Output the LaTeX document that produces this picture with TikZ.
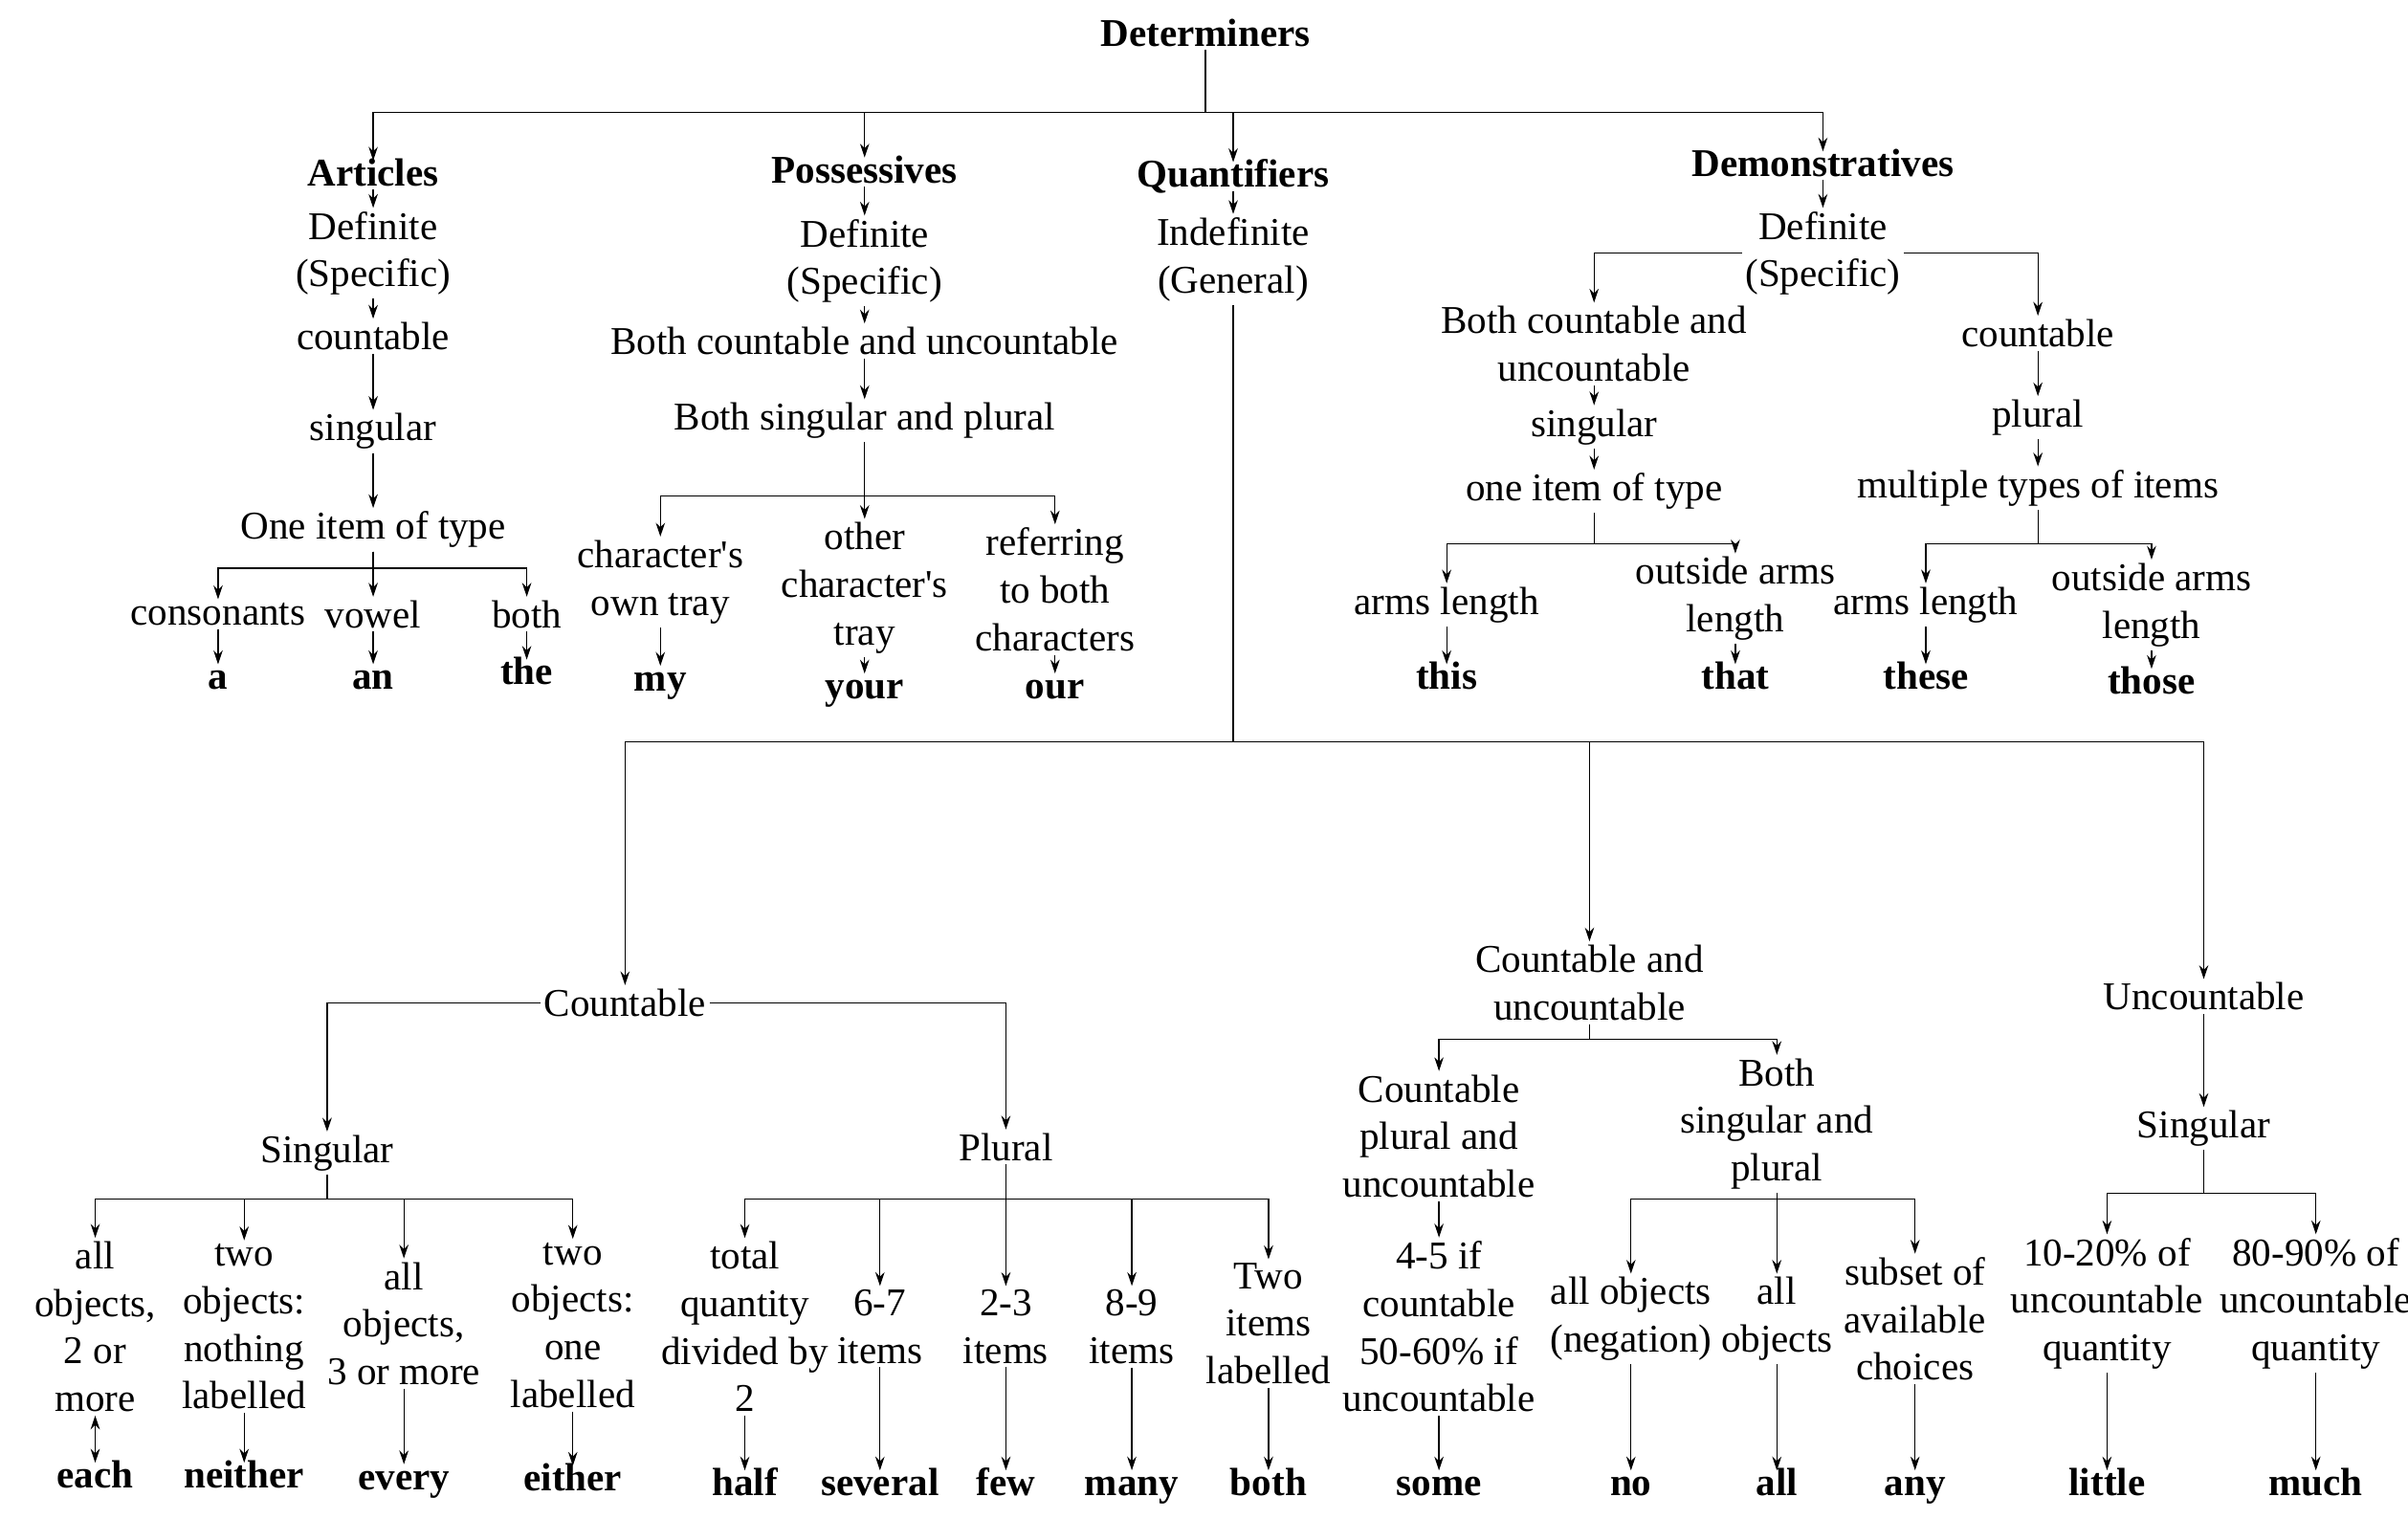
\documentclass[tikz,border=0pt]{standalone}
\usepackage{fontspec}
\setmainfont{Liberation Serif}
\usetikzlibrary{arrows.meta}

\tikzset{
  lbl/.style={inner sep=1pt, align=center},
  word/.style={lbl, text height=0.7em, text depth=0pt, yshift=-1pt, font=\fontsize{12.8}{15.5}\selectfont\bfseries},
  arr/.style={-{Stealth[length=4.5pt,width=3pt]}, line width=0.4pt},
  dbl/.style={{Stealth[length=4.5pt,width=3pt]}-{Stealth[length=4.5pt,width=3pt]}, line width=0.4pt},
}
\newcommand{\apo}{\textquotesingle}

\begin{document}
\begin{tikzpicture}[x=0.5pt, y=-0.5pt, font=\fontsize{12.8}{15.5}\selectfont]
\useasboundingbox (0,0) rectangle (1568,989);

% bus heights
\coordinate (busdet) at (0,73);
\coordinate (busart) at (0,370);
\coordinate (busposs) at (0,323);
\coordinate (busq) at (0,483);
\coordinate (buscu) at (0,677);
\coordinate (buslow) at (0,781);
\coordinate (busunc) at (0,777);
\coordinate (busdem) at (0,354);

% Root
\node[word] (det) at (785,21) {Determiners};

% Articles
\node[word] (art) at (243,112) {Articles};
\node[lbl] (artdef) at (243,165) {Definite\\(Specific)};
\node[lbl] (artcnt) at (243,219) {countable};
\node[lbl] (artsg) at (243,281) {singular};
\node[lbl] (artone) at (243,345) {One item of type};
\node[lbl] (artcons) at (142,400) {consonants};
\node[lbl] (artvow) at (243,400) {vowel};
\node[lbl] (artboth) at (343,400) {both};
\node[word] (wa) at (142,440) {a};
\node[word] (wan) at (243,440) {an};
\node[word] (wthe) at (343,437) {the};

% Possessives
\node[word] (poss) at (563,110) {Possessives};
\node[lbl] (possdef) at (563,170) {Definite\\(Specific)};
\node[lbl] (posscu) at (563,222) {Both countable and uncountable};
\node[lbl] (posssp) at (563,274) {Both singular and plural};
\node[lbl] (possown) at (430,379) {character\apo s\\own tray};
\node[lbl] (possoth) at (563,383) {other\\character\apo s\\tray};
\node[lbl] (possref) at (687,384) {referring\\to both\\characters};
\node[word] (wmy) at (430,441) {my};
\node[word] (wyour) at (563,446) {your};
\node[word] (wour) at (687,446) {our};

% Quantifiers
\node[word] (quant) at (803,113) {Quantifiers};
\node[lbl] (quantind) at (803,169) {Indefinite\\(General)};

\node[lbl] (cnt) at (407,653) {Countable};
\node[lbl] (cntsg) at (213,751) {Singular};
\node[lbl] (cntpl) at (655,747) {Plural};
\node[lbl] (s1) at (62,864) {all\\objects,\\2 or\\more};
\node[lbl] (s2) at (159,864) {two\\objects:\\nothing\\labelled};
\node[lbl] (s3) at (263,862) {all\\objects,\\3 or more};
\node[lbl] (s4) at (373,863) {two\\objects:\\one\\labelled};
\node[word] (weach) at (62,960) {each};
\node[word] (wneither) at (159,960) {neither};
\node[word] (wevery) at (263,961) {every};
\node[word] (weither) at (373,962) {either};
\node[lbl] (p1) at (485,864) {total\\quantity\\divided by\\2};
\node[lbl] (p2) at (573,864) {6-7\\items};
\node[lbl] (p3) at (655,864) {2-3\\items};
\node[lbl] (p4) at (737,864) {8-9\\items};
\node[lbl] (p5) at (826,862) {Two\\items\\labelled};
\node[word] (whalf) at (485,965) {half};
\node[word] (wseveral) at (573,965) {several};
\node[word] (wfew) at (655,965) {few};
\node[word] (wmany) at (737,965) {many};
\node[word] (wboth) at (826,965) {both};

\node[lbl] (cu) at (1035,640) {Countable and\\uncountable};
\node[lbl] (cupl) at (937,740) {Countable\\plural and\\uncountable};
\node[lbl] (cupct) at (937,864) {4-5 if\\countable\\50-60\% if\\uncountable};
\node[word] (wsome) at (937,965) {some};
\node[lbl] (cusp) at (1157,732) {Both\\singular and\\plural};
\node[lbl] (cuno) at (1062,859) {all objects\\(negation)};
\node[lbl] (cuall) at (1157,859) {all\\objects};
\node[lbl] (cuany) at (1247,859) {subset of\\available\\choices};
\node[word] (wno) at (1062,965) {no};
\node[word] (wall) at (1157,965) {all};
\node[word] (wany) at (1247,965) {any};

\node[lbl] (unc) at (1435,649) {Uncountable};
\node[lbl] (uncsg) at (1435,735) {Singular};
\node[lbl] (unclo) at (1372,849) {10-20\% of\\uncountable\\quantity};
\node[lbl] (unchi) at (1508,849) {80-90\% of\\uncountable\\quantity};
\node[word] (wlittle) at (1372,965) {little};
\node[word] (wmuch) at (1508,965) {much};

% Demonstratives
\node[word] (dem) at (1187,106) {Demonstratives};
\node[lbl] (demdef) at (1187,165) {Definite\\(Specific)};
\node[lbl] (dembcu) at (1038,224) {Both countable and\\uncountable};
\node[lbl] (demsg) at (1038,278) {singular};
\node[lbl] (demone) at (1038,320) {one item of type};
\node[lbl] (demarm) at (942,394) {arms length};
\node[lbl] (demout) at (1130,390) {outside arms\\length};
\node[word] (wthis) at (942,440) {this};
\node[word] (wthat) at (1130,440) {that};
\node[lbl] (demcnt) at (1327,217) {countable};
\node[lbl] (dempl) at (1327,272) {plural};
\node[lbl] (demmul) at (1327,318) {multiple types of items};
\node[lbl] (demarm2) at (1254,394) {arms length};
\node[lbl] (demout2) at (1401,394) {outside arms\\length};
\node[word] (wthese) at (1254,440) {these};
\node[word] (wthose) at (1401,443) {those};

% Connectors: root
\draw[arr] (det.south) |- (art.north |- busdet) -- (art.north);
\draw[arr] (det.south) |- (poss.north |- busdet) -- (poss.north);
\draw[arr] (det.south) |- (quant.north |- busdet) -- (quant.north);
\draw[arr] (det.south) |- (dem.north |- busdet) -- (dem.north);

% Articles
\draw[arr] (art) -- (artdef);
\draw[arr] (artdef) -- (artcnt);
\draw[arr] (artcnt) -- (artsg);
\draw[arr] (artsg) -- (artone);
\draw[arr] (artone.south) |- (artcons.north |- busart) -- (artcons.north);
\draw[arr] (artone.south) -- (artvow.north);
\draw[arr] (artone.south) |- (artboth.north |- busart) -- (artboth.north);
\draw[arr] (artcons) -- (wa);
\draw[arr] (artvow) -- (wan);
\draw[arr] (artboth) -- (wthe);

% Possessives
\draw[arr] (poss) -- (possdef);
\draw[arr] (possdef) -- (posscu);
\draw[arr] (posscu) -- (posssp);
\draw[arr] (posssp.south) |- (possown.north |- busposs) -- (possown.north);
\draw[arr] (posssp.south) -- (possoth.north);
\draw[arr] (posssp.south) |- (possref.north |- busposs) -- (possref.north);
\draw[arr] (possown) -- (wmy);
\draw[arr] (possoth) -- (wyour);
\draw[arr] (possref) -- (wour);

% Quantifiers
\draw[arr] (quant) -- (quantind);
\draw[arr] (quantind.south) |- (cnt.north |- busq) -- (cnt.north);
\draw[arr] (quantind.south) |- (cu.north |- busq) -- (cu.north);
\draw[arr] (quantind.south) |- (unc.north |- busq) -- (unc.north);

\draw[arr] (cnt.west) -| (cntsg.north);
\draw[arr] (cnt.east) -| (cntpl.north);
\draw[arr] (cntsg.south) |- (s1.north |- buslow) -- (s1.north);
\draw[arr] (cntsg.south) |- (s2.north |- buslow) -- (s2.north);
\draw[arr] (cntsg.south) |- (s3.north |- buslow) -- (s3.north);
\draw[arr] (cntsg.south) |- (s4.north |- buslow) -- (s4.north);
\draw[dbl] (s1) -- (weach);
\draw[arr] (s2) -- (wneither);
\draw[arr] (s3) -- (wevery);
\draw[arr] (s4) -- (weither);
\draw[arr] (cntpl.south) |- (p1.north |- buslow) -- (p1.north);
\draw[arr] (cntpl.south) |- (p2.north |- buslow) -- (p2.north);
\draw[arr] (cntpl.south) -- (p3.north);
\draw[arr] (cntpl.south) |- (p4.north |- buslow) -- (p4.north);
\draw[arr] (cntpl.south) |- (p5.north |- buslow) -- (p5.north);
\draw[arr] (p1) -- (whalf);
\draw[arr] (p2) -- (wseveral);
\draw[arr] (p3) -- (wfew);
\draw[arr] (p4) -- (wmany);
\draw[arr] (p5) -- (wboth);

\draw[arr] (cu.south) |- (cupl.north |- buscu) -- (cupl.north);
\draw[arr] (cu.south) |- (cusp.north |- buscu) -- (cusp.north);
\draw[arr] (cupl) -- (cupct);
\draw[arr] (cupct) -- (wsome);
\draw[arr] (cusp.south) |- (cuno.north |- buslow) -- (cuno.north);
\draw[arr] (cusp.south) -- (cuall.north);
\draw[arr] (cusp.south) |- (cuany.north |- buslow) -- (cuany.north);
\draw[arr] (cuno) -- (wno);
\draw[arr] (cuall) -- (wall);
\draw[arr] (cuany) -- (wany);

\draw[arr] (unc) -- (uncsg);
\draw[arr] (uncsg.south) |- (unclo.north |- busunc) -- (unclo.north);
\draw[arr] (uncsg.south) |- (unchi.north |- busunc) -- (unchi.north);
\draw[arr] (unclo) -- (wlittle);
\draw[arr] (unchi) -- (wmuch);

% Demonstratives
\draw[arr] (dem) -- (demdef);
\draw[arr] (demdef.west) -| (dembcu.north);
\draw[arr] (demdef.east) -| (demcnt.north);
\draw[arr] (dembcu) -- (demsg);
\draw[arr] (demsg) -- (demone);
\draw[arr] (demone.south) |- (demarm.north |- busdem) -- (demarm.north);
\draw[arr] (demone.south) |- (demout.north |- busdem) -- (demout.north);
\draw[arr] (demarm) -- (wthis);
\draw[arr] (demout) -- (wthat);
\draw[arr] (demcnt) -- (dempl);
\draw[arr] (dempl) -- (demmul);
\draw[arr] (demmul.south) |- (demarm2.north |- busdem) -- (demarm2.north);
\draw[arr] (demmul.south) |- (demout2.north |- busdem) -- (demout2.north);
\draw[arr] (demarm2) -- (wthese);
\draw[arr] (demout2) -- (wthose);
\end{tikzpicture}
\end{document}
